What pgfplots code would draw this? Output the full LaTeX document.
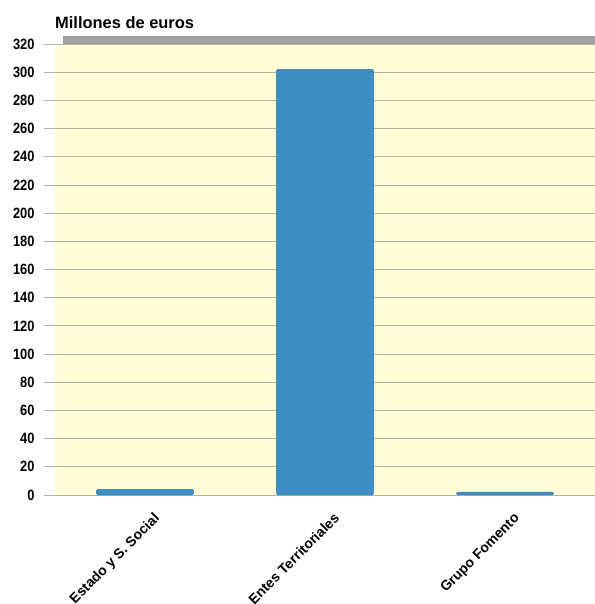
\documentclass[border=0pt]{standalone}
\usepackage{fontspec}
\setmainfont{Liberation Sans}
\newfontfamily\narrowfont{Liberation Sans}[FakeStretch=0.86]
\usepackage{pgfplots}
\pgfplotsset{compat=1.18}
\definecolor{bg}{RGB}{255,253,214}
\definecolor{barblue}{RGB}{62,141,196}
\definecolor{gridgray}{RGB}{178,178,168}
\definecolor{topgray}{RGB}{160,160,160}
\begin{document}
\begin{tikzpicture}
\useasboundingbox (-55bp,-109bp) rectangle (540bp,495bp);
\begin{axis}[
    at={(0,0)}, anchor=south west,
    scale only axis,
    width=540bp, height=451bp,
    xmin=-0.5, xmax=2.5,
    ymin=0, ymax=320,
    ybar, bar width=0.54,
    axis background/.style={fill=bg},
    axis line style={draw=none},
    ytick={0,20,...,320},
    xtick={0,1,2},
    xticklabels={Estado y S. Social, Entes Territoriales, Grupo Fomento},
    ymajorgrids,
    grid style={gridgray, line width=0.8bp},
    ytick pos=left,
    xtick style={draw=none},
    ytick style={gridgray, line width=0.8bp},
    tick align=outside,
    major tick length=11bp,
    /pgf/number format/assume math mode=true,
    yticklabel style={font=\narrowfont\bfseries\fontsize{15}{15}\selectfont, xshift=-6bp},
    xticklabel style={font=\bfseries\fontsize{14}{14}\selectfont, xshift=8bp, yshift=-1bp, rotate=45, anchor=north east},
  ]
  \addplot[fill=barblue, draw=barblue!85!black, rounded corners=1.5bp]
    coordinates {(0,4) (1,302) (2,2)};
\end{axis}
\fill[topgray] (8bp,451bp) rectangle (540bp,459bp);
\node[anchor=base west, font=\bfseries\fontsize{16.5}{16.5}\selectfont, inner sep=0pt] at (0bp,466bp) {Millones de euros};
\end{tikzpicture}
\end{document}
